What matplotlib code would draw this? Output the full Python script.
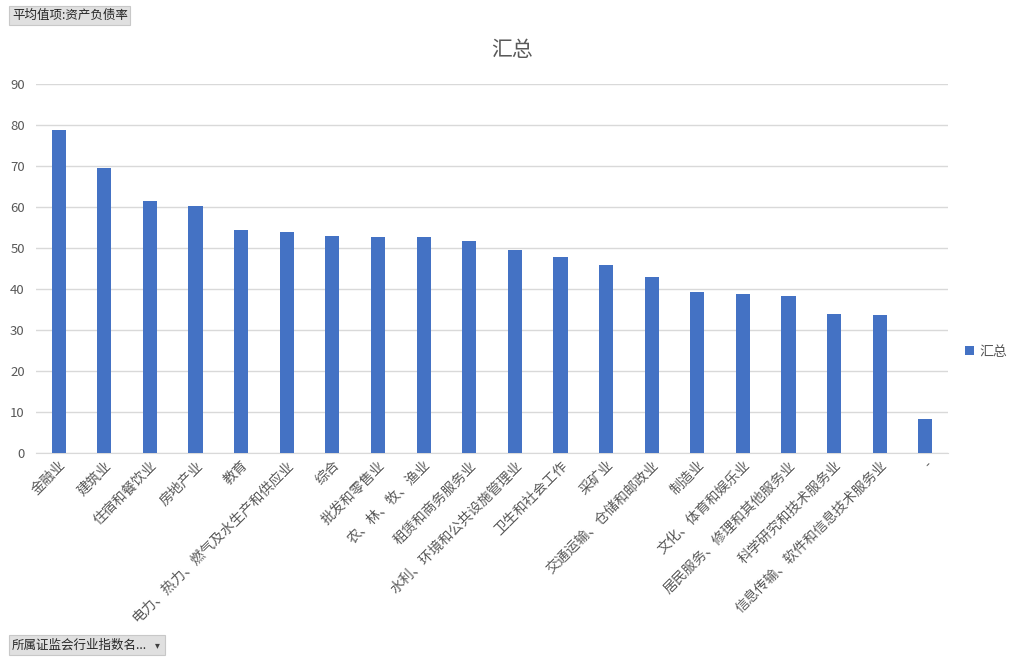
import matplotlib.pyplot as plt
from matplotlib.patches import FancyBboxPatch

plt.rcParams["font.family"] = ["Noto Sans CJK SC", "DejaVu Sans"]

industries = [
    "金融业", "建筑业", "住宿和餐饮业", "房地产业", "教育",
    "电力、热力、燃气及水生产和供应业", "综合", "批发和零售业", "农、林、牧、渔业",
    "租赁和商务服务业", "水利、环境和公共设施管理业", "卫生和社会工作", "采矿业",
    "交通运输、仓储和邮政业", "制造业", "文化、体育和娱乐业", "居民服务、修理和其他服务业",
    "科学研究和技术服务业", "信息传输、软件和信息技术服务业", "-",
]
debt_ratio = [
    78.8, 69.5, 61.5, 60.2, 54.4, 53.9, 52.9, 52.7, 52.7, 51.7,
    49.5, 47.8, 45.9, 42.9, 39.3, 38.8, 38.3, 33.9, 33.7, 8.3,
]
y_ticks = [0, 10, 20, 30, 40, 50, 60, 70, 80, 90]

BAR = "#4472C4"
TXT = "#595959"
GRID = "#D9D9D9"

fig = plt.figure(figsize=(10.24, 6.61), dpi=100)
ax = fig.add_axes([0.035, 0.315, 0.891, 0.558])

x = range(len(industries))
ax.bar(x, debt_ratio, width=0.31, color=BAR, label="汇总", zorder=3)

ax.set_xlim(-0.5, len(industries) - 0.5)
ax.set_ylim(0, 90)
ax.set_yticks(y_ticks)
ax.yaxis.grid(True, color=GRID, linewidth=1, zorder=0)
ax.tick_params(axis="y", length=0, labelsize=9.5, colors=TXT, pad=8)
ax.tick_params(axis="x", length=0, colors=TXT, pad=4)
ax.set_xticks(list(x))
ax.set_xticklabels(industries, rotation=45, ha="right", rotation_mode="anchor",
                   fontsize=10, color=TXT)
for s in ["top", "right", "left"]:
    ax.spines[s].set_visible(False)
ax.spines["bottom"].set_color(GRID)

fig.text(0.5, 0.925, "汇总", ha="center", va="center", fontsize=15, color=TXT)

ax.legend(loc="center left", bbox_to_anchor=(1.005, 0.274), frameon=False,
          fontsize=10, labelcolor=TXT, handlelength=0.6, handleheight=0.6,
          handletextpad=0.4)

# pivot field buttons
def field_button(x0, y0, w, h, text, arrow=False):
    box = FancyBboxPatch((x0 / 1024, 1 - (y0 + h) / 661), w / 1024, h / 661,
                         boxstyle="square,pad=0", transform=fig.transFigure,
                         facecolor="#E0E0E0", edgecolor="#C8C8C8", linewidth=0.8)
    fig.add_artist(box)
    fig.text((x0 + 3) / 1024, 1 - (y0 + h / 2) / 661, text, ha="left", va="center",
             fontsize=9, color="#262626")
    if arrow:
        fig.text((x0 + w - 8) / 1024, 1 - (y0 + h / 2) / 661, "▾", ha="center",
                 va="center", fontsize=7, color="#404040", family="DejaVu Sans")

field_button(9, 6, 121, 19, "平均值项:资产负债率")
field_button(9, 635, 156, 20, "所属证监会行业指数名...", arrow=True)

fig.savefig("out.png", dpi=100)
